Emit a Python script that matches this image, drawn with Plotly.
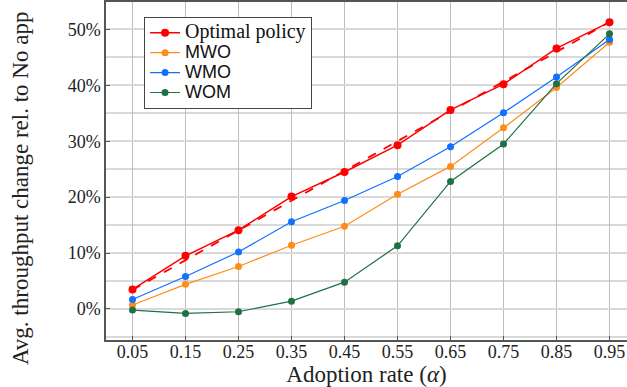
import plotly.graph_objects as go

alpha = [0.05, 0.15, 0.25, 0.35, 0.45, 0.55, 0.65, 0.75, 0.85, 0.95]
optimal = [3.5, 9.5, 14.1, 20.1, 24.5, 29.3, 35.6, 40.2, 46.6, 51.3]
mwo = [0.7, 4.4, 7.6, 11.4, 14.8, 20.5, 25.5, 32.4, 39.6, 47.7]
wmo = [1.7, 5.8, 10.2, 15.6, 19.4, 23.7, 29.0, 35.1, 41.5, 48.2]
wom = [-0.2, -0.8, -0.5, 1.4, 4.8, 11.3, 22.8, 29.5, 40.3, 49.2]
trend_x = [0.05, 0.95]
trend_y = [3.4, 51.3]
x_ticks = [0.05, 0.15, 0.25, 0.35, 0.45, 0.55, 0.65, 0.75, 0.85, 0.95]
x_ticklabels = ["0.05", "0.15", "0.25", "0.35", "0.45", "0.55", "0.65", "0.75", "0.85", "0.95"]
y_ticks = [0, 10, 20, 30, 40, 50]
y_ticklabels = ["0%", "10%", "20%", "30%", "40%", "50%"]

SERIF = "Liberation Serif"
SANS = "Liberation Sans"

fig = go.Figure()

def name(txt, fam, size):
    return f'<span style="font-family:{fam}; font-size:{size}px">{txt}</span>'

fig.add_trace(go.Scatter(x=trend_x, y=trend_y, mode="lines",
                         line=dict(color="#ff0000", width=1.8, dash="dash"),
                         showlegend=False, hoverinfo="skip"))
fig.add_trace(go.Scatter(x=alpha, y=optimal, mode="lines+markers",
                         name=name("Optimal policy", SERIF, 20),
                         line=dict(color="#ff0000", width=1.5),
                         marker=dict(color="#ff0000", size=8)))
fig.add_trace(go.Scatter(x=alpha, y=mwo, mode="lines+markers",
                         name=name("MWO", SANS, 18),
                         line=dict(color="#ff8c1a", width=1.2),
                         marker=dict(color="#ff8c1a", size=7)))
fig.add_trace(go.Scatter(x=alpha, y=wmo, mode="lines+markers",
                         name=name("WMO", SANS, 18),
                         line=dict(color="#1170ff", width=1.2),
                         marker=dict(color="#1170ff", size=7)))
fig.add_trace(go.Scatter(x=alpha, y=wom, mode="lines+markers",
                         name=name("WOM", SANS, 18),
                         line=dict(color="#1f7045", width=1.2),
                         marker=dict(color="#1f7045", size=7)))

fig.update_layout(
    width=627, height=387,
    margin=dict(l=106, r=0, t=2, b=47),
    paper_bgcolor="white", plot_bgcolor="white",
    font=dict(family=SERIF, size=18, color="#222"),
    showlegend=True,
    legend=dict(x=0.073, y=0.956, xanchor="left", yanchor="top",
                bgcolor="white", bordercolor="#444", borderwidth=1,
                font=dict(size=13, family=SERIF, color="#111"),
                tracegroupgap=0),
    xaxis=dict(range=[0, 0.983], tickvals=x_ticks, ticktext=x_ticklabels,
               showgrid=True, gridcolor="#bdbdbd", gridwidth=1,
               zeroline=False, showline=True, linecolor="#555", linewidth=1.5,
               mirror=True, ticks="inside", ticklen=4, tickcolor="#555",
               tickfont=dict(size=18), automargin=False, ticklabelstandoff=-5,
               title=dict(text="Adoption rate (<i>α</i>)", font=dict(size=23), standoff=0)),
    yaxis=dict(range=[-5.55, 54.9], tickvals=y_ticks, ticktext=y_ticklabels,
               showgrid=True, gridcolor="#d9d9d9", gridwidth=1.5,
               minor=dict(dtick=5, tick0=0, showgrid=True, gridcolor="#d9d9d9", gridwidth=1.5),
               zeroline=False, showline=True, linecolor="#555", linewidth=1.5,
               mirror=False, ticks="inside", ticklen=4, tickcolor="#555",
               tickfont=dict(size=18), ticklabelstandoff=0, automargin=False),
    annotations=[dict(text="Avg. throughput change rel. to No app", textangle=-90,
                      xref="paper", yref="paper", x=-0.165, y=(340 - 189) / 338,
                      xanchor="center", yanchor="middle", showarrow=False,
                      font=dict(size=23, family=SERIF, color="#222"))],
)

fig.write_html("out.html", config={"displayModeBar": False},
               post_script="document.body.style.margin='0px';document.body.style.overflow='hidden';")
